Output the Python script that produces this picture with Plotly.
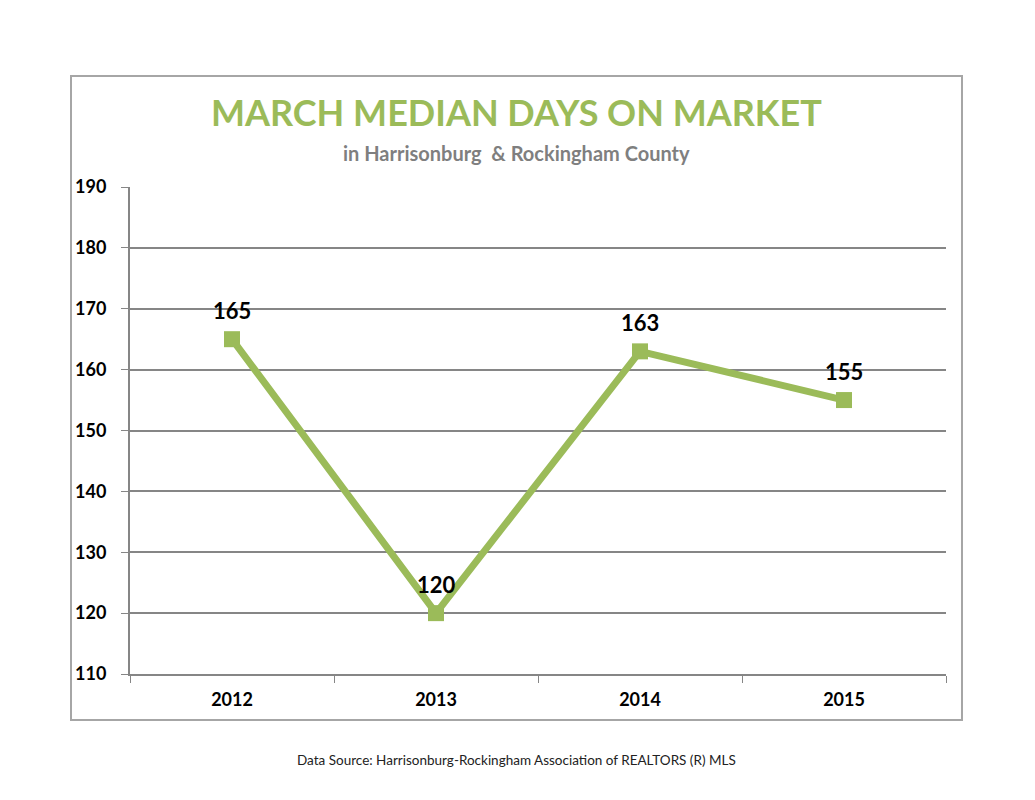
import plotly.graph_objects as go

years = ["2012", "2013", "2014", "2015"]
median_days = [165, 120, 163, 155]
y_ticks = [110, 120, 130, 140, 150, 160, 170, 180, 190]

green = "#9BBB59"
grid = "#868686"

fig = go.Figure()

fig.add_trace(go.Scatter(
    x=years, y=median_days,
    mode="lines+markers",
    line=dict(color=green, width=7),
    marker=dict(symbol="square", size=16, color=green),
    cliponaxis=False,
    hoverinfo="x+y"))

# data labels above each point (category index on the x axis)
for i, v in enumerate(median_days):
    fig.add_annotation(x=i, y=v, text="<b>%d</b>" % v, showarrow=False,
                       yshift=29, font=dict(family="Lato", size=22, color="black"))

# outer chart border
fig.add_shape(type="rect", xref="paper", yref="paper",
              x0=-0.0723, x1=1.0196, y0=-0.0945, y1=1.228,
              line=dict(color="#a6a6a6", width=2), layer="below")

fig.add_annotation(text="<b>MARCH MEDIAN DAYS ON MARKET</b>",
                   xref="paper", yref="paper", x=0.474, y=1.154, yanchor="middle",
                   showarrow=False, font=dict(family="Lato", size=36, color=green))
fig.add_annotation(text="<b>in Harrisonburg  &amp; Rockingham County</b>",
                   xref="paper", yref="paper", x=0.474, y=1.070, yanchor="middle",
                   showarrow=False, font=dict(family="Lato", size=20, color="#7f7f7f"))
fig.add_annotation(text="Data Source: Harrisonburg-Rockingham Association of REALTORS (R) MLS",
                   xref="paper", yref="paper", x=0.474, y=-0.177, yanchor="middle",
                   showarrow=False, font=dict(family="Lato", size=13.5, color="#222222"))

# page body has an 8px offset, margins compensate
fig.update_layout(
    width=1035, height=800,
    margin=dict(l=122, r=97, t=179, b=134),
    paper_bgcolor="white", plot_bgcolor="white",
    showlegend=False,
    xaxis=dict(
        type="category", range=[-0.5, 3.5],
        showgrid=False, zeroline=False,
        showline=True, linecolor=grid, linewidth=2,
        ticks="outside", tickson="boundaries", ticklen=7, tickcolor=grid, tickwidth=1,
        ticklabelstandoff=8,
        tickfont=dict(family="Lato", size=18, color="black", weight="bold")),
    yaxis=dict(
        range=[110, 190], tickvals=y_ticks,
        showgrid=True, gridcolor=grid, gridwidth=2,
        zeroline=False,
        showline=True, linecolor=grid, linewidth=2,
        ticks="outside", ticklen=7, tickcolor=grid,
        ticklabelstandoff=11,
        tickfont=dict(family="Lato", size=18, color="black", weight="bold")),
)

fig.write_html("out.html")
